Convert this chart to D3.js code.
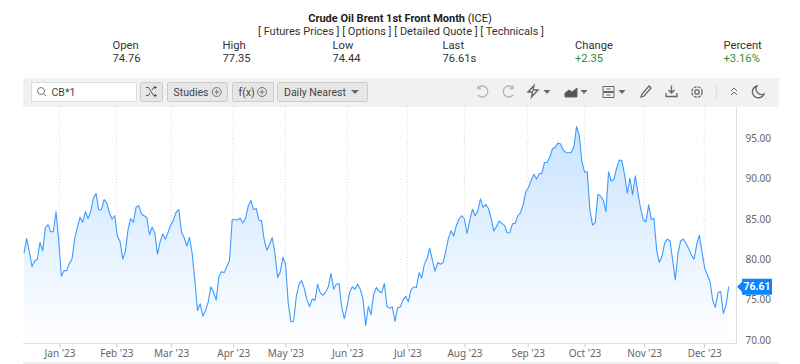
<!DOCTYPE html>
<html>
<head>
<meta charset="utf-8">
<script src="https://cdn.jsdelivr.net/npm/d3@7"></script>
<style>
  html, body { margin: 0; padding: 0; background: #fff; }
  svg { display: block; }
  text { font-family: Roboto, sans-serif; }
</style>
</head>
<body>
<div id="vizcontainer"></div>
<script>
// daily closes
const closes = [
  80.75,82.6,80.95,79.1,79.8,80,82.1,81.05,83.9,84.3,83.4,83.45,85.9,82.4,77.9,78.6,78.6,79.5,80.05,82.6,
  84,85.2,84.6,85.9,85.05,85.95,87.6,88.15,86.15,86.15,87.4,87,85.75,85,85.4,82.85,82.2,80,81.05,83.75,
  85.05,84.6,86.45,86.65,85.65,85.4,85.2,83.05,84,83.25,80.65,82.2,83.1,82.5,83.35,84.3,84.85,85.85,86.15,83.35,
  82.7,81.65,82.7,80.75,77.4,73.65,74.5,72.95,73.65,74.7,76.6,75.95,74.95,77.85,78.45,78.35,79.1,79.85,84.9,84.9,
  84.9,85.1,84.5,85.1,86.6,87.3,86.15,86.3,84.85,84.8,82.4,81.15,81.8,82.7,80.75,77.75,78.45,80.25,79.35,74.5,
  72.25,72.35,75.35,76.9,77.35,76.4,75,74.15,75.1,74.9,76.9,75.85,75.55,75.95,76.6,78.25,76.3,76.9,77,74.1,
  72.65,74.1,75.95,76.6,76.3,76.9,76.25,75.1,71.8,74.15,73.15,75.65,76.5,76.05,75.85,77,74.15,73.95,74.1,72.3,
  74,74.1,75,75.4,74.75,76.2,76.6,76.5,78.35,77.7,79.4,80.1,81.4,79.9,78.55,79.6,79.4,79.6,81,82.6,
  83.55,82.9,84.25,85,85.4,85,83.2,84.9,86.2,85.4,86,87.5,86.45,86.8,86.3,85.1,83.5,84.05,84.75,84.45,
  84.2,83.3,83.3,84.4,84.45,85.4,85.8,86.75,88.4,88.9,89.8,90.55,89.95,90.6,90.65,92,92,92.7,93.7,93.9,
  94.4,94.3,93.55,93.25,93.2,93.25,93.95,96.45,95.4,92.1,90.8,90.85,86.1,84.25,84.55,88.05,87.85,87.35,85.9,90.85,
  89.7,89.9,91.3,92.3,92.2,90.45,88.2,90.05,88,90.35,88.2,86.3,84.9,84.65,86.75,84.95,85.1,81.15,79.6,80.35,
  82,82.5,82.3,79.9,77.45,80.75,82.3,82.5,82,81.35,80.55,80,81.8,83,80.95,78.9,78.05,77.25,74.95,74.05,
  75.85,76,73.3,74.35,76.61
];
const monthLabels = ["Jan '23","Feb '23","Mar '23","Apr '23","May '23","Jun '23","Jul '23","Aug '23","Sep '23","Oct '23","Nov '23","Dec '23"];
const monthIdx = [13.3,34.6,55.1,78.4,97.9,121.1,143.6,165,188.7,210,232.3,254.8];
const priceTicks = [70,75,80,85,90,95];
const quoteHeads = ["Open","High","Low","Last","Change","Percent"];
const quoteVals = ["74.76","77.35","74.44","76.61s","+2.35","+3.16%"];

const width = 800, height = 364;

const viz = d3.select('#vizcontainer').append('svg')
  .attr('width', width)
  .attr('height', height);

const x = d3.scaleLinear().domain([0, closes.length - 1]).range([24, 728.7]);
const y = d3.scaleLinear().domain([70, 95]).range([340, 138.3]);

// header
viz.append('text').attr('x', 400).attr('y', 22).attr('text-anchor', 'middle')
  .style('font-size', '11px').attr('fill', '#222')
  .call(t => {
    t.append('tspan').style('font-weight', 700).text('Crude Oil Brent 1st Front Month');
    t.append('tspan').text(' (ICE)');
  });
viz.append('text').attr('x', 401).attr('y', 35).attr('text-anchor', 'middle')
  .style('font-size', '11px').attr('fill', '#333')
  .text('[ Futures Prices ] [ Options ] [ Detailed Quote ] [ Technicals ]');

const quoteX = [112.5, 222.5, 332.5, 442.5, 575, 723.5];
quoteHeads.forEach((h, i) => {
  viz.append('text').attr('x', quoteX[i]).attr('y', 48.5).style('font-size', '11.2px').attr('fill', '#333').text(h);
  viz.append('text').attr('x', quoteX[i]).attr('y', 62).style('font-size', '11.2px')
    .attr('fill', i > 3 ? '#2e8b3a' : '#333').text(quoteVals[i]);
});

// toolbar
viz.append('rect').attr('x', 23).attr('y', 78).attr('width', 756).attr('height', 29).attr('fill', '#f1f1f1');
viz.append('rect').attr('x', 31.5).attr('y', 82.5).attr('width', 105).attr('height', 19).attr('fill', '#fff').attr('stroke', '#ddd');
viz.append('circle').attr('cx', 41).attr('cy', 91).attr('r', 3.5).attr('fill', 'none').attr('stroke', '#777');
viz.append('line').attr('x1', 43.6).attr('y1', 93.6).attr('x2', 46).attr('y2', 96).attr('stroke', '#777');
viz.append('text').attr('x', 51.5).attr('y', 96).style('font-size', '10.5px').attr('fill', '#444').text('CB*1');

const buttons = [[140.5, 22], [167.5, 60], [232.5, 41], [277.5, 90]];
viz.selectAll('rect.btn').data(buttons).join('rect').attr('class', 'btn')
  .attr('x', d => d[0]).attr('y', 82.5).attr('width', d => d[1]).attr('height', 19)
  .attr('rx', 1).attr('fill', '#e6e6e6').attr('stroke', '#ccc');

viz.append('path').attr('d', 'M146 87.500h2.500l5 8h3M146 95.500h2.500l1.600-2.600M152 90l1.500-2.500h3M154.500 86l2 1.500-2 1.500M154.500 94l2 1.500-2 1.500')
  .attr('fill', 'none').attr('stroke', '#555');
viz.append('text').attr('x', 173.5).attr('y', 96).style('font-size', '10.5px').attr('fill', '#444').text('Studies');
viz.append('text').attr('x', 238.5).attr('y', 96).style('font-size', '10.5px').attr('fill', '#444').text('f(x)');
viz.append('text').attr('x', 284).attr('y', 96).style('font-size', '10.5px').attr('fill', '#444').text('Daily Nearest');
[[216.7, 92], [262, 92]].forEach(c => {
  viz.append('circle').attr('cx', c[0]).attr('cy', c[1]).attr('r', 4.500).attr('fill', 'none').attr('stroke', '#777');
  viz.append('path').attr('d', `M${c[0]-2.500} ${c[1]}h5M${c[0]} ${c[1]-2.500}v5`).attr('stroke', '#777');
});
viz.append('path').attr('d', 'M351 90h8l-4 4z').attr('fill', '#5a6b7b');

// right side icons
const ico = viz.append('g').attr('fill', 'none').attr('stroke', '#666').attr('stroke-width', 1.3);
ico.append('path').attr('d', 'M478 88a5.500 5.500 0 1 1 0 7M478 85.500v3h3').attr('stroke', '#b5b5b5');
ico.append('path').attr('d', 'M513 88a5.500 5.500 0 1 0 0 7M513 85.500v3h-3').attr('stroke', '#b5b5b5');
ico.append('path').attr('d', 'M528 92l6-6.500-1 4.500h5l-6.500 7 1-5z');
ico.append('path').attr('d', 'M565 97v-4l4-3 3 2 5-4v9z').attr('fill', '#555').attr('stroke-width', 1);
ico.append('path').attr('d', 'M603 86.500h11v5h-11zM603 92.500h11v5h-11zM606.500 89h4M606.500 95h4').attr('stroke-width', 1);
ico.append('path').attr('d', 'M641 97l1-3 7-8 2 2-7 8z');
ico.append('path').attr('d', 'M666 93v3.500h11v-3.500M671.500 85.500v7.500M668.500 90l3 3 3-3');
ico.append('circle').attr('cx', 697).attr('cy', 92).attr('r', 2.200);
ico.append('circle').attr('cx', 697).attr('cy', 92).attr('r', 5.200).attr('stroke-dasharray', '3 1.100');
ico.append('line').attr('x1', 716.500).attr('x2', 716.500).attr('y1', 86).attr('y2', 98).attr('stroke', '#ddd');
ico.append('path').attr('d', 'M731 91l3-3 3 3M731 95l3-3 3 3').attr('stroke-width', 1);
ico.append('path').attr('d', 'M757 86a6 6 0 1 0 7 8a5.500 5.500 0 0 1-7-8z');
viz.selectAll('path.caret').data([543.500, 580.500, 618.500]).join('path').attr('class', 'caret')
  .attr('d', d => `M${d} 90h7l-3.500 4z`).attr('fill', '#5a6b7b');

// grid
const grid = viz.append('g').attr('stroke', '#ddd').attr('stroke-dasharray', '1 7');
grid.selectAll('line.h').data(priceTicks).join('line').attr('class', 'h')
  .attr('x1', 24).attr('x2', 736).attr('y1', d => y(d)).attr('y2', d => y(d));
grid.selectAll('line.v').data(monthIdx).join('line').attr('class', 'v')
  .attr('x1', d => x(d)).attr('x2', d => x(d)).attr('y1', 107).attr('y2', 343)
  .attr('stroke-dasharray', '1 2');

// area + line
const grad = viz.append('defs').append('linearGradient').attr('id', 'fillGrad')
  .attr('x1', 0).attr('y1', 0).attr('x2', 0).attr('y2', 1);
grad.append('stop').attr('offset', '0%').attr('stop-color', '#c8e3ff');
grad.append('stop').attr('offset', '100%').attr('stop-color', '#ffffff');

viz.append('path').datum(closes)
  .attr('fill', 'url(#fillGrad)')
  .attr('d', d3.area().x((d, i) => x(i)).y0(343).y1(d => y(d)));
viz.append('path').datum(closes)
  .attr('fill', 'none').attr('stroke', '#3d9bff').attr('stroke-width', 1.1)
  .attr('stroke-linejoin', 'round')
  .attr('d', d3.line().x((d, i) => x(i)).y(d => y(d)));

// axes
const axisB = viz.append('g').attr('transform', 'translate(0,343.5)')
  .call(d3.axisBottom(x).tickValues(monthIdx).tickFormat((d, i) => monthLabels[i]).tickSize(4).tickPadding(2));
axisB.select('.domain').remove();
axisB.selectAll('line').attr('stroke', '#ccc');
axisB.selectAll('text').style('font-size', '10px').style('font-family', "'Noto Sans', sans-serif").attr('fill', '#666');

const axisR = viz.append('g').attr('transform', 'translate(736.5,0)')
  .call(d3.axisRight(y).tickValues(priceTicks).tickFormat(d3.format('.2f')).tickSize(0).tickPadding(9));
axisR.select('.domain').remove();
axisR.selectAll('text').style('font-size', '10px').style('font-family', "'Noto Sans', sans-serif").attr('fill', '#666');

viz.append('line').attr('x1', 23).attr('x2', 736.5).attr('y1', 343.5).attr('y2', 343.5).attr('stroke', '#ddd').attr('stroke-width', 1);
viz.append('line').attr('x1', 736.5).attr('x2', 736.5).attr('y1', 107).attr('y2', 343.5).attr('stroke', '#ddd');
viz.append('line').attr('x1', 23).attr('x2', 779).attr('y1', 363).attr('y2', 363).attr('stroke', '#ddd');

// last price flag
const lastY = y(closes[closes.length - 1]);
viz.append('path').attr('d', `M737 ${lastY}l5 -5v-3h30v16h-30v-3z`).attr('fill', '#0a84ff');
viz.append('text').attr('x', 757).attr('y', lastY + 3.5).attr('text-anchor', 'middle')
  .style('font-size', '10.5px').style('font-weight', 700).attr('fill', '#fff').text('76.61');
</script>
</body>
</html>
